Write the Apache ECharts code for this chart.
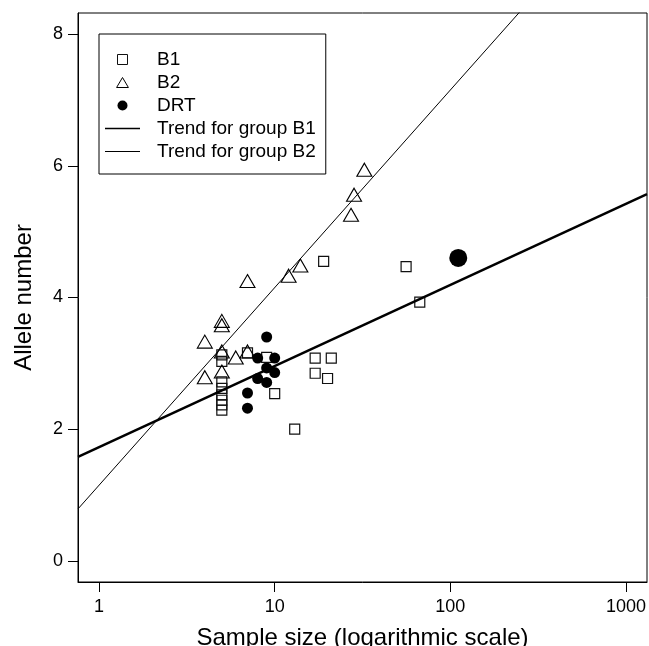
<!DOCTYPE html>
<html>
<head>
<meta charset="utf-8">
<script src="https://cdn.jsdelivr.net/npm/echarts@6/dist/echarts.min.js"></script>
<style>
html,body{margin:0;padding:0;background:#fff;}
#chart{width:649px;height:646px;}
</style>
</head>
<body>
<div id="chart"></div>
<script>
// ---- data (sample size, allele number) ----
var b1Points = [
  [5, 3.13], [5, 3.03], [5, 2.72], [5, 2.62], [5, 2.52], [5, 2.44], [5, 2.37], [5, 2.29],
  [7, 3.16], [9, 3.09], [10, 2.54], [13, 2.0], [17, 3.08], [21, 3.08], [17, 2.85], [20, 2.77],
  [19, 4.55], [56, 4.47], [67, 3.93]
];
var b2Points = [
  [4, 3.33], [4, 2.79], [5, 3.645], [5, 3.58], [5, 3.18], [5, 2.875], [6, 3.09], [7, 3.18],
  [7, 4.25], [12, 4.33], [14, 4.485], [27.2, 5.255], [28.3, 5.56], [32.4, 5.94]
];
var drtPoints = [
  [7, 2.32], [7, 2.55], [8, 3.08], [8, 2.77], [9, 3.40], [9, 2.93], [9, 2.71], [10, 3.08], [10, 2.86]
];
var drtPooled = [[111, 4.60]];
var trendB1 = [[0.7586, 1.58], [1318, 5.57]];
var trendB2 = [[0.7586, 0.79], [1318, 10.51]];
var xTicks = [1, 10, 100, 1000];
var yTicks = [0, 2, 4, 6, 8];
var legendNames = ['B1', 'B2', 'DRT', 'Trend for group B1', 'Trend for group B2'];

var FONT = 'Liberation Sans, Arial, Helvetica, sans-serif';
var legendIcons = {
  'B1': 'path://M0,0 L10,0 L10,10 L0,10 Z',
  'B2': 'path://M0,11 L6.5,0 L13,11 Z',
  'DRT': 'circle',
  'Trend for group B1': 'path://M0,0 L35,0 L35,1.6 L0,1.6 Z',
  'Trend for group B2': 'path://M0,0 L35,0 L35,1.1 L0,1.1 Z'
};
var legendStroke = {'B1': 1, 'B2': 1, 'DRT': 0, 'Trend for group B1': 0, 'Trend for group B2': 0};
var chart = echarts.init(document.getElementById('chart'), null, {renderer: 'canvas'});
var option = {
  animation: false,
  backgroundColor: '#ffffff',
  grid: {
    left: 78, right: 2, top: 13, bottom: 64,
    show: true, borderColor: '#000', borderWidth: 1, backgroundColor: 'transparent',
    containLabel: false, outerBoundsMode: 'none'
  },
  legend: {
    orient: 'vertical',
    left: 99, top: 34,
    data: legendNames.map(function (n) {
      return {name: n, icon: legendIcons[n], itemStyle: {borderWidth: legendStroke[n]}};
    }),
    itemWidth: 35, itemHeight: 10, itemGap: 4,
    symbolKeepAspect: true,
    padding: [16, 10, 13, 6],
    borderColor: '#000', borderWidth: 1, borderRadius: 0,
    backgroundColor: '#fff',
    textStyle: {fontFamily: FONT, fontSize: 19, color: '#000', padding: [0, 0, 0, 12]},
    selectedMode: false
  },
  xAxis: {
    type: 'log', logBase: 10,
    min: 0.7586, max: 1318,
    name: 'Sample size (logarithmic scale)',
    nameLocation: 'middle', nameGap: 44,
    nameTextStyle: {fontFamily: FONT, fontSize: 24, color: '#000'},
    axisLine: {show: true, onZero: false, lineStyle: {color: '#000', width: 1}},
    axisTick: {show: true, inside: false, length: 10, customValues: xTicks, lineStyle: {color: '#000', width: 1}},
    axisLabel: {show: true, margin: 16, customValues: xTicks, fontFamily: FONT, fontSize: 18, color: '#000',
      formatter: function (v) { return String(Math.round(v)); }},
    splitLine: {show: false}, minorTick: {show: false}, minorSplitLine: {show: false}
  },
  yAxis: {
    type: 'value',
    min: -0.32, max: 8.32,
    name: 'Allele number',
    nameLocation: 'middle', nameGap: 42, nameRotate: 90,
    nameTextStyle: {fontFamily: FONT, fontSize: 24, color: '#000'},
    axisLine: {show: true, onZero: false, lineStyle: {color: '#000', width: 1}},
    axisTick: {show: true, inside: false, length: 10, customValues: yTicks, lineStyle: {color: '#000', width: 1}},
    axisLabel: {show: true, margin: 15, customValues: yTicks, fontFamily: FONT, fontSize: 18, color: '#000',
      formatter: function (v) { return String(Math.round(v)); }},
    splitLine: {show: false}
  },
  series: [
    {
      name: 'B1', type: 'scatter', data: b1Points,
      symbol: 'rect', symbolSize: 10,
      itemStyle: {color: 'rgba(255,255,255,0)', borderColor: '#111', borderWidth: 1.2, opacity: 1},
      emphasis: {disabled: true}, z: 3
    },
    {
      name: 'B2', type: 'scatter', data: b2Points,
      symbol: 'triangle', symbolSize: [15, 13],
      itemStyle: {color: 'rgba(255,255,255,0)', borderColor: '#000', borderWidth: 1.1, opacity: 1},
      emphasis: {disabled: true}, z: 3
    },
    {
      name: 'DRT', type: 'scatter', data: drtPoints,
      symbol: 'circle', symbolSize: 11,
      itemStyle: {color: '#000', borderWidth: 0, opacity: 1},
      emphasis: {disabled: true}, z: 3
    },
    {
      name: 'DRT', type: 'scatter', data: drtPooled,
      symbol: 'circle', symbolSize: 18,
      itemStyle: {color: '#000', borderWidth: 0, opacity: 1},
      emphasis: {disabled: true}, z: 3
    },
    {
      name: 'Trend for group B1', type: 'line', data: trendB1,
      symbol: 'none', showSymbol: false, clip: true,
      lineStyle: {color: '#000', width: 2.5},
      itemStyle: {color: '#000'},
      emphasis: {disabled: true}, z: 4
    },
    {
      name: 'Trend for group B2', type: 'line', data: trendB2,
      symbol: 'none', showSymbol: false, clip: true,
      lineStyle: {color: '#000', width: 1},
      itemStyle: {color: '#000'},
      emphasis: {disabled: true}, z: 4
    }
  ]
};
chart.setOption(option);
</script>
</body>
</html>
